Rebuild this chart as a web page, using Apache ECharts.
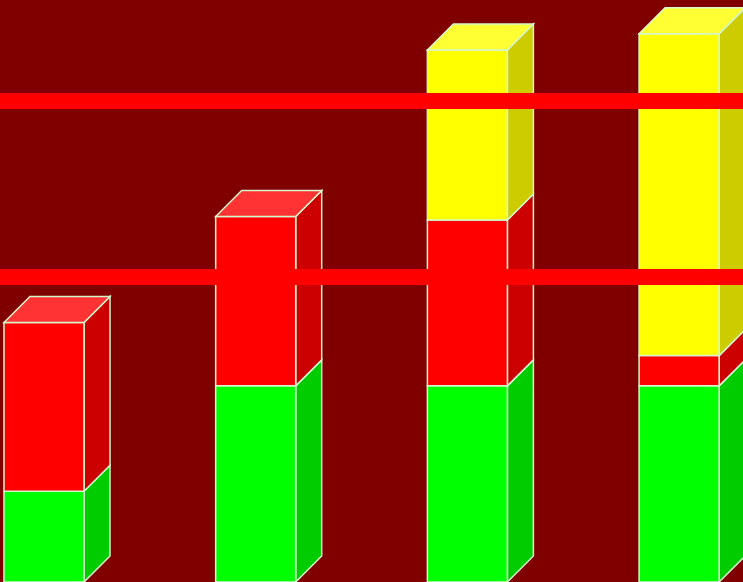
<!DOCTYPE html>
<html>
<head>
<meta charset="utf-8">
<script src="https://cdn.jsdelivr.net/npm/echarts@6/dist/echarts.min.js"></script>
<style>
  html, body { margin: 0; padding: 0; background: #800000; }
  #chart { width: 743px; height: 582px; }
</style>
</head>
<body>
<div id="chart"></div>
<script>
// Categories and stacked values (bottom to top: green, red, yellow)
var categories = ['A', 'B', 'C', 'D'];
var greenValues = [15.6, 33.7, 33.7, 33.7];
var redValues = [29.0, 29.1, 28.5, 5.2];
var yellowValues = [0, 0, 29.2, 55.3];
// Horizontal reference bands
var bandValues = [52.4, 82.7];

var layers = [
  { name: 'Green', values: greenValues, front: '#00ff00', side: '#00cc00', top: '#33ff33' },
  { name: 'Red', values: redValues, front: '#ff0000', side: '#cc0000', top: '#ff3333' },
  { name: 'Yellow', values: yellowValues, front: '#ffff00', side: '#cccc00', top: '#ffff33' }
];

var DEPTH = 26;          // 3D offset in px
var BAR_RATIO = 0.378;   // front face width relative to one category step
var EDGE = '#d4f7cc';

// Build [categoryIndex, base, top, isTopmost] rows per layer
var layerData = layers.map(function () { return []; });
categories.forEach(function (c, i) {
  var base = 0;
  var lastNonZero = -1;
  layers.forEach(function (l, k) { if (l.values[i] > 0) lastNonZero = k; });
  layers.forEach(function (l, k) {
    var v = l.values[i];
    if (v > 0) {
      layerData[k].push([i, base, base + v, k === lastNonZero ? 1 : 0]);
    }
    base += v;
  });
});

function makeRender(layer) {
  return function (params, api) {
    var cat = api.value(0);
    var p0 = api.coord([cat, api.value(1)]);
    var p1 = api.coord([cat, api.value(2)]);
    var w = api.size([1, 0])[0] * BAR_RATIO;
    var L = p0[0] - w / 2, R = p0[0] + w / 2;
    var B = p0[1], T = p1[1];
    var children = [
      {
        type: 'polygon',
        shape: { points: [[R, B], [R + DEPTH, B - DEPTH], [R + DEPTH, T - DEPTH], [R, T]] },
        style: { fill: layer.side, stroke: EDGE, lineWidth: 1.5 }
      },
      {
        type: 'rect',
        shape: { x: L, y: T, width: R - L, height: B - T },
        style: { fill: layer.front, stroke: EDGE, lineWidth: 1.5 }
      }
    ];
    if (api.value(3) === 1) {
      children.push({
        type: 'polygon',
        shape: { points: [[L, T], [L + DEPTH, T - DEPTH], [R + DEPTH, T - DEPTH], [R, T]] },
        style: { fill: layer.top, stroke: EDGE, lineWidth: 1.5 }
      });
    }
    return { type: 'group', children: children };
  };
}

var series = [{
  type: 'line',
  data: [],
  z: 1,
  silent: true,
  markLine: {
    silent: true,
    symbol: ['none', 'none'],
    label: { show: false },
    lineStyle: { color: '#ff0000', width: 16, type: 'solid', opacity: 1 },
    emphasis: { disabled: true },
    data: bandValues.map(function (v) { return { yAxis: v }; })
  }
}];

layers.forEach(function (layer, k) {
  series.push({
    type: 'custom',
    name: layer.name,
    z: 2 + k,
    renderItem: makeRender(layer),
    encode: { x: 0, y: [1, 2] },
    data: layerData[k]
  });
});

var chart = echarts.init(document.getElementById('chart'), null, { renderer: 'canvas' });
chart.setOption({
  backgroundColor: '#800000',
  animation: false,
  grid: { left: 0, right: 0, top: 0, bottom: 0 },
  // Category positions on a numeric axis (index of each category); the
  // visible window starts slightly before the first category.
  xAxis: {
    type: 'value',
    min: -0.2078,
    max: 3.3019,
    show: false,
    splitLine: { show: false }
  },
  yAxis: {
    type: 'value',
    min: 0,
    max: 100,
    show: false,
    splitLine: { show: false }
  },
  series: series
});
</script>
</body>
</html>
